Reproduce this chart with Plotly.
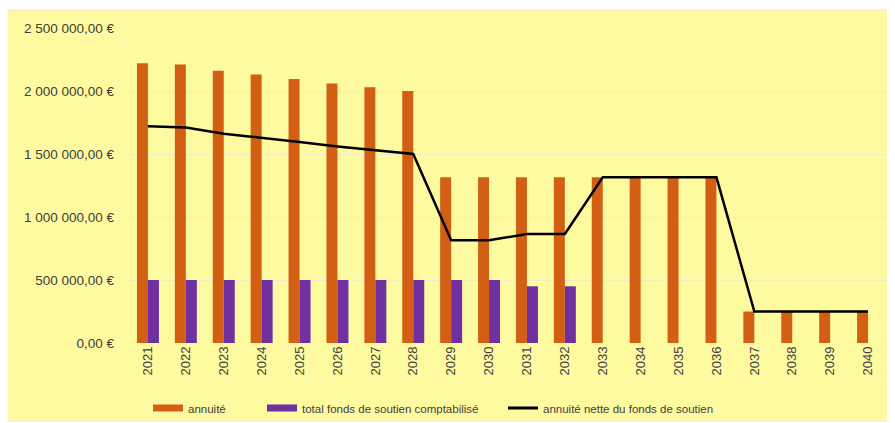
import plotly.graph_objects as go

years = [str(y) for y in range(2021, 2041)]
annuite = [2220000, 2210000, 2160000, 2130000, 2095000, 2060000, 2030000, 2000000,
           1315000, 1315000, 1315000, 1315000, 1315000, 1315000, 1315000, 1315000,
           250000, 250000, 250000, 250000]
fonds = [500000] * 10 + [450000, 450000] + [None] * 8
nette = [1720000, 1710000, 1660000, 1630000, 1595000, 1560000, 1530000, 1500000,
         815000, 815000, 865000, 865000, 1315000, 1315000, 1315000, 1315000,
         250000, 250000, 250000, 250000]
ytick_vals = [0, 500000, 1000000, 1500000, 2000000, 2500000]
ytick_text = ["0,00 €", "500 000,00 €", "1 000 000,00 €", "1 500 000,00 €",
              "2 000 000,00 €", "2 500 000,00 €"]

ORANGE = "#D35F14"
PURPLE = "#7030A0"
BG = "#FEFAA0"
TXT = "#404040"
FONT = "Liberation Sans"

OFF = 8  # page body margin
W, H = 895 - OFF, 423 - OFF
L, R, T = 129 - OFF, 8, 28 - OFF
B = H - (343 - OFF)
pw, ph = W - L - R, H - T - B

fig = go.Figure()
fig.add_trace(go.Bar(x=years, y=annuite, name="annuité", marker_color=ORANGE,
                     marker_line_width=0, showlegend=False))
fig.add_trace(go.Bar(x=years, y=fonds, name="total fonds de soutien comptabilisé",
                     marker_color=PURPLE, marker_line_width=0, showlegend=False))
fig.add_trace(go.Scatter(x=years, y=nette, mode="lines", name="annuité nette du fonds de soutien",
                         line=dict(color="black", width=2.5), showlegend=False))

# legend entries
fig.add_trace(go.Scatter(x=[None], y=[None], mode="lines", name="annuité",
                         line=dict(color=ORANGE, width=7), legend="legend"))
fig.add_trace(go.Scatter(x=[None], y=[None], mode="lines", name="total fonds de soutien comptabilisé",
                         line=dict(color=PURPLE, width=7), legend="legend2"))
fig.add_trace(go.Scatter(x=[None], y=[None], mode="lines", name="annuité nette du fonds de soutien",
                         line=dict(color="black", width=3), legend="legend3"))

def leg(px):
    return dict(x=(px - OFF) / W, y=1 - (408 - OFF) / H, xref="container", yref="container",
                xanchor="left", yanchor="middle", bgcolor="rgba(0,0,0,0)",
                font=dict(family=FONT, size=11.5, color=TXT), itemwidth=30,
                orientation="h")

def px_to_paper_x(px):
    return (px - OFF - L) / pw

def py_to_paper_y(py):
    return (H - B - (py - OFF)) / ph

fig.update_layout(
    width=W, height=H,
    margin=dict(l=L, r=R, t=T, b=B),
    paper_bgcolor="white",
    plot_bgcolor="rgba(0,0,0,0)",
    barmode="group", bargap=0.42, bargroupgap=0,
    font=dict(family=FONT, size=12, color=TXT),
    legend=leg(148), legend2=leg(262), legend3=leg(503),
    xaxis=dict(type="category", tickangle=-90, showgrid=False, showline=False,
               ticks="", tickfont=dict(family=FONT, size=13, color=TXT)),
    yaxis=dict(range=[0, 2500000], tickvals=ytick_vals, ticktext=ytick_text,
               showgrid=True, gridcolor="#EFEDC8", gridwidth=1, zeroline=False,
               showline=False, ticks="", ticklabelstandoff=14,
               tickfont=dict(family=FONT, size=13.5, color=TXT)),
    shapes=[dict(type="rect", xref="paper", yref="paper", layer="below",
                 x0=px_to_paper_x(7), x1=px_to_paper_x(894),
                 y0=py_to_paper_y(421), y1=py_to_paper_y(10),
                 fillcolor=BG, line=dict(color="#F3E4DF", width=1))],
)

fig.write_html("out.html")
